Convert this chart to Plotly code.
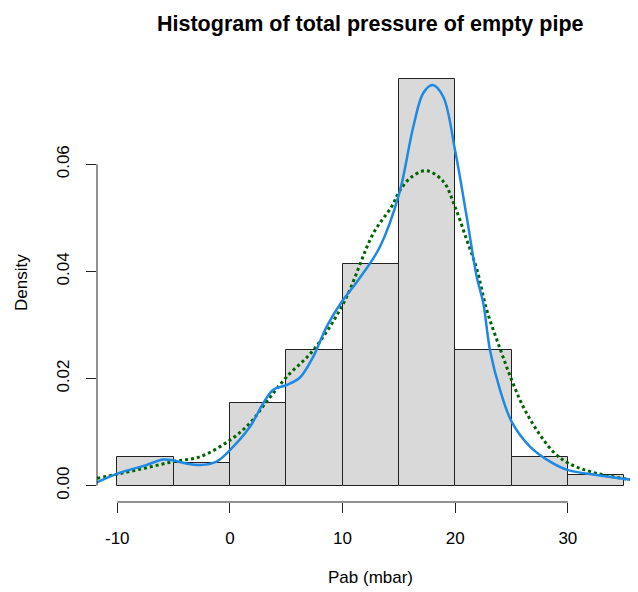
import plotly.graph_objects as go

# Histogram data (bin breaks and densities)
breaks = [-10, -5, 0, 5, 10, 15, 20, 25, 30, 35]
density = [0.00536, 0.00418, 0.01544, 0.02533, 0.04139, 0.0759, 0.02533, 0.00536, 0.0020]

# Blue kernel density curve
blue_x = [-11.8, -9.92, -7.5, -5.92, -5.03, -3.8, -2.66, -1.2, 0.0, 1.78, 2.96, 3.85, 5.03, 6.22,
          7.40, 8.59, 9.92, 11.4, 13.32, 15.04, 16.28, 17.17, 18.0, 18.94, 19.98, 21.02,
          21.91, 22.5, 23.09, 23.98, 25.02, 26.64, 28.42, 30.05, 32.57, 36.23]
blue_y = [0.00063, 0.0023, 0.0038, 0.0049, 0.0047, 0.0041, 0.00386, 0.0045, 0.00666, 0.011, 0.0154,
          0.0179, 0.0188, 0.0202, 0.0241, 0.0297, 0.0343, 0.0384, 0.0446, 0.0546, 0.067, 0.0733,
          0.0748, 0.0726, 0.0627, 0.0502, 0.039, 0.034, 0.0253, 0.0179, 0.0119, 0.0073,
          0.0045, 0.0029, 0.0020, 0.00094]

# Green dotted smoothed curve
green_x = [-11.8, -9.92, -7.5, -5.03, -2.66, 0.0, 1.78, 3.26, 5.03, 7.4, 10.07, 12.73, 14.36,
           15.04, 15.99, 17.41, 18.94, 19.98, 21.02, 21.91, 22.8, 23.98, 25.02, 26.05,
           27.24, 28.72, 30.05, 32.57, 36.23]
green_y = [0.00138, 0.0022, 0.0033, 0.0045, 0.0054, 0.0085, 0.0117, 0.0157, 0.0203, 0.0253,
           0.034, 0.0471, 0.0521, 0.0549, 0.0574, 0.0588, 0.0568, 0.0521, 0.0459, 0.0405,
           0.0328, 0.0256, 0.0197, 0.0147, 0.0104, 0.0063, 0.0042, 0.0023, 0.00094]

x_ticks = [-10, 0, 10, 20, 30]
x_tick_text = ["-10", "0", "10", "20", "30"]
y_ticks = [0.0, 0.02, 0.04, 0.06]
y_tick_text = ["0.00", "0.02", "0.04", "0.06"]

title_text = "Histogram of total pressure of empty pipe"
x_label = "Pab (mbar)"
y_label = "Density"

centers = [(breaks[i] + breaks[i + 1]) / 2 for i in range(len(density))]
widths = [breaks[i + 1] - breaks[i] for i in range(len(density))]

FONT = "Liberation Sans, Arial, Helvetica, sans-serif"

fig = go.Figure()
fig.add_trace(go.Bar(x=centers, y=density, width=widths,
                     marker=dict(color="#D9D9D9", line=dict(color="#222222", width=1)),
                     showlegend=False, hoverinfo="skip"))
fig.add_trace(go.Scatter(x=green_x, y=green_y, mode="lines", line_shape="spline",
                         line=dict(color="#006400", width=3, dash="dot"), showlegend=False))
fig.add_trace(go.Scatter(x=blue_x, y=blue_y, mode="lines", line_shape="spline",
                         line=dict(color="#1E88E5", width=2.5), showlegend=False))

fig.update_layout(
    template="none",
    width=630, height=584,
    margin=dict(l=89, r=0, t=55, b=90, autoexpand=False),
    paper_bgcolor="white", plot_bgcolor="white",
    bargap=0,
    font=dict(family=FONT, size=17, color="black"),
    xaxis=dict(range=[-11.8, 36.23], tickvals=x_ticks, ticktext=x_tick_text,
               ticks="outside", ticklen=10, tickwidth=1,
               tickcolor="#222222", showgrid=False, zeroline=False, showline=False,
               automargin=False, ticklabelstandoff=11, tickfont=dict(size=17)),
    yaxis=dict(range=[-0.00304, 0.0789], tickvals=y_ticks, ticktext=y_tick_text,
               ticks="outside", ticklen=10, tickwidth=1, tickcolor="#222222", tickangle=-90,
               showgrid=False, zeroline=False, showline=False,
               automargin=False, ticklabelstandoff=10, tickfont=dict(size=17)),
    shapes=[
        dict(type="line", xref="paper", yref="y", x0=0, x1=0, y0=0, y1=0.06,
             line=dict(color="#222222", width=1)),
        dict(type="line", xref="x", yref="paper", x0=-10, x1=30, y0=0, y1=0,
             line=dict(color="#222222", width=1)),
    ],
    annotations=[
        dict(text="<b>" + title_text + "</b>", xref="x", yref="paper", x=12.5, y=1.088,
             xanchor="center", yanchor="middle", showarrow=False,
             font=dict(size=21.5, family=FONT)),
        dict(text=x_label, xref="x", yref="paper", x=12.5, y=-0.173,
             xanchor="center", yanchor="middle", showarrow=False, font=dict(size=17)),
        dict(text=y_label, xref="paper", yref="paper", x=-0.1396, y=0.5, textangle=-90,
             xanchor="center", yanchor="middle", showarrow=False, font=dict(size=17)),
    ],
)

fig.write_html("out.html")
